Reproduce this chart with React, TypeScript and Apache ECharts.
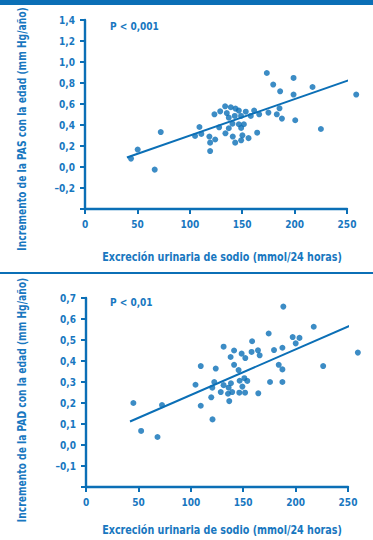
import React, { useEffect, useRef } from "react";
import * as echarts from "echarts";

const BLUE = "#0b6fb6";
const TEXT_BLUE = "#1877c0";
const FONT = "'Liberation Sans Narrow', 'DejaVu Sans Condensed', Roboto, sans-serif";

const xTicks = [0, 50, 100, 150, 200, 250];

// Systolic (PAS) panel
const pasPoints: [number, number][] = [
  [43.9, 0.08], [50.3, 0.166], [66.5, -0.025], [72.3, 0.333], [105, 0.295],
  [111, 0.315], [109.2, 0.381], [118.7, 0.29], [119.4, 0.232], [119.4, 0.152],
  [124.2, 0.262], [123.5, 0.502], [129, 0.53], [128, 0.378], [133.7, 0.578],
  [135.3, 0.514], [134, 0.321], [137.2, 0.47], [137.2, 0.369], [139.1, 0.569],
  [140.7, 0.413], [141, 0.29], [142.9, 0.486], [143.3, 0.232], [143.6, 0.556],
  [146.8, 0.537], [146.8, 0.407], [148.9, 0.486], [149, 0.372], [149, 0.254],
  [150.2, 0.302], [151.6, 0.407], [153.4, 0.527], [156, 0.275], [158.2, 0.486],
  [161.4, 0.537], [164.3, 0.327], [166.2, 0.502], [173.5, 0.895], [175, 0.518],
  [179.6, 0.785], [183, 0.502], [185.6, 0.559], [186.2, 0.721], [187.9, 0.461],
  [199, 0.848], [199, 0.69], [200.6, 0.445], [217.1, 0.762], [225.1, 0.362],
  [258.8, 0.69],
];
const pasFit: [number, number][] = [[40, 0.09], [259.5, 0.854]];
const pasYMin = -0.4;
const pasYMax = 1.4;
const pasYStep = 0.2;

// Diastolic (PAD) panel
const padPoints: [number, number][] = [
  [45.2, 0.2], [52.6, 0.067], [68.2, 0.038], [72.5, 0.19], [104.5, 0.287],
  [109.5, 0.376], [109.5, 0.187], [119.5, 0.227], [120.7, 0.122], [120.5, 0.273],
  [122.4, 0.3], [123.8, 0.364], [128.6, 0.252], [131.3, 0.468], [131.3, 0.285],
  [136.1, 0.273], [135.5, 0.244], [136.7, 0.209], [138.3, 0.294], [138, 0.419],
  [139.5, 0.252], [141.3, 0.45], [141.3, 0.382], [145.6, 0.357], [146.6, 0.306],
  [146.3, 0.249], [148.5, 0.435], [149.2, 0.278], [151.1, 0.318], [151.8, 0.249],
  [152, 0.414], [153.9, 0.305], [158, 0.443], [158.5, 0.494], [164.1, 0.451],
  [164.4, 0.246], [165.7, 0.427], [174.3, 0.531], [175.6, 0.3], [179.4, 0.452],
  [183.9, 0.382], [187.4, 0.463], [187.4, 0.36], [187.4, 0.3], [188.3, 0.659],
  [197.2, 0.514], [200.1, 0.484], [203.7, 0.51], [217.3, 0.563], [226.3, 0.376],
  [259.4, 0.44],
];
const padFit: [number, number][] = [[42, 0.112], [258.8, 0.583]];
const padYMin = -0.2;
const padYMax = 0.7;
const padYStep = 0.1;

const xTitle = "Excreción urinaria de sodio (mmol/24 horas)";
const pasYTitle = "Incremento de la PAS con la edad (mm Hg/año)";
const padYTitle = "Incremento de la PAD con la edad (mm Hg/año)";
const pasP = "P < 0,001";
const padP = "P < 0,01";

const fmt = (min: number) => (v: number) => {
  if (Math.abs(v - min) < 1e-6) return "";
  const s = v.toFixed(1).replace(".", ",");
  return v < -1e-9 ? "\u2013" + s.slice(1) : s;
};

function xAxis(gridIndex: number) {
  return {
    gridIndex,
    type: "value",
    min: xTicks[0],
    max: xTicks[xTicks.length - 1],
    interval: xTicks[1] - xTicks[0],
    axisLine: { show: true, onZero: false, lineStyle: { color: BLUE, width: 2.4 } },
    axisTick: { show: true, length: 5, lineStyle: { color: BLUE, width: 2 } },
    splitLine: { show: false },
    axisLabel: { color: TEXT_BLUE, fontSize: 10, fontWeight: "bold", fontFamily: FONT, margin: 10 },
  };
}

function yAxis(gridIndex: number, min: number, max: number, step: number) {
  return {
    gridIndex,
    type: "value",
    min,
    max,
    interval: step,
    axisLine: { show: true, onZero: false, lineStyle: { color: BLUE, width: 2.4 } },
    axisTick: { show: true, length: 5, lineStyle: { color: BLUE, width: 2 } },
    splitLine: { show: false },
    axisLabel: {
      color: TEXT_BLUE,
      fontSize: 10,
      fontWeight: "bold",
      fontFamily: FONT,
      margin: 10,
      formatter: fmt(min),
    },
  };
}

export default function App() {
  const ref = useRef<HTMLDivElement>(null);
  useEffect(() => {
    if (!ref.current) return;
    const chart = echarts.init(ref.current, null, { renderer: "svg" });
    const titleStyle = {
      fill: TEXT_BLUE,
      fontSize: 12,
      fontWeight: "bold",
      fontFamily: FONT,
      align: "center",
      verticalAlign: "middle",
    };
    chart.setOption({
      animation: false,
      backgroundColor: "#ffffff",
      grid: [
        { left: 85, top: 20, width: 262, height: 189 },
        { left: 86, top: 298, width: 262, height: 189 },
      ],
      xAxis: [xAxis(0), xAxis(1)],
      yAxis: [yAxis(0, pasYMin, pasYMax, pasYStep), yAxis(1, padYMin, padYMax, padYStep)],
      series: [
        {
          type: "scatter", xAxisIndex: 0, yAxisIndex: 0, data: pasPoints,
          symbolSize: 6, itemStyle: { color: BLUE }, clip: false,
        },
        {
          type: "line", xAxisIndex: 0, yAxisIndex: 0, data: pasFit, showSymbol: false,
          lineStyle: { color: BLUE, width: 2 }, clip: false,
        },
        {
          type: "scatter", xAxisIndex: 1, yAxisIndex: 1, data: padPoints,
          symbolSize: 6, itemStyle: { color: BLUE }, clip: false,
        },
        {
          type: "line", xAxisIndex: 1, yAxisIndex: 1, data: padFit, showSymbol: false,
          lineStyle: { color: BLUE, width: 2 }, clip: false,
        },
      ],
      graphic: [
        { type: "rect", shape: { x: 0, y: 0, width: 373, height: 5 }, style: { fill: BLUE } },
        { type: "rect", shape: { x: 0, y: 272, width: 373, height: 2 }, style: { fill: BLUE } },
        { type: "text", x: 22, y: 129, rotation: Math.PI / 2, scaleX: 0.85, style: { ...titleStyle, text: pasYTitle } },
        { type: "text", x: 22, y: 400, rotation: Math.PI / 2, scaleX: 0.85, style: { ...titleStyle, text: padYTitle } },
        { type: "text", x: 222, y: 257, scaleX: 0.89, style: { ...titleStyle, text: xTitle } },
        { type: "text", x: 222, y: 530, scaleX: 0.89, style: { ...titleStyle, text: xTitle } },
        {
          type: "text", x: 110, y: 26,
          style: { text: pasP, fill: TEXT_BLUE, fontSize: 10, fontWeight: "bold", fontFamily: FONT, verticalAlign: "middle" },
        },
        {
          type: "text", x: 110, y: 302,
          style: { text: padP, fill: TEXT_BLUE, fontSize: 10, fontWeight: "bold", fontFamily: FONT, verticalAlign: "middle" },
        },
      ],
    });
    return () => chart.dispose();
  }, []);
  return (
    <div
      ref={ref}
      style={{ position: "absolute", left: 0, top: 0, width: 373, height: 540 }}
    />
  );
}
